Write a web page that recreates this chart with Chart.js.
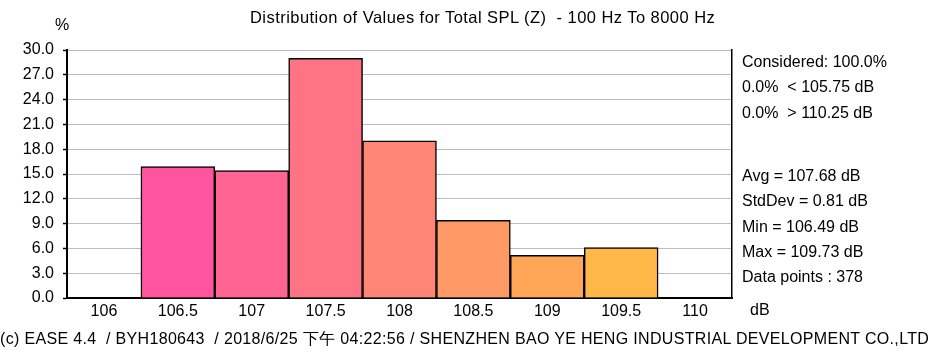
<!DOCTYPE html>
<html>
<head>
<meta charset="utf-8">
<script src="https://cdn.jsdelivr.net/npm/chart.js@4.4.0/dist/chart.umd.min.js"></script>
<style>
  html, body { margin: 0; padding: 0; background: #fff; }
  #wrap { position: relative; width: 930px; height: 353px; overflow: hidden;
          font-family: "Liberation Sans", Arial, sans-serif; font-size: 16px; color: #000; }
  #wrap canvas { position: absolute; left: 0; top: 0; }
  .txt { position: absolute; white-space: pre; line-height: 20px; }
  .stats { position: absolute; left: 742px; white-space: pre; line-height: 25.3px; }
</style>
</head>
<body>
<div id="wrap">
  <canvas id="graph" width="930" height="353"></canvas>
  <div class="txt" id="title" style="left:250px; top:7px; font-size:16.5px; letter-spacing:0.45px;"></div>
  <div class="txt" id="yunit" style="left:55px; top:15px;"></div>
  <div class="txt" id="xunit" style="left:750px; top:300px;"></div>
  <div class="stats" id="statsTop" style="top:49px;"></div>
  <div class="stats" id="statsBottom" style="top:163px;"></div>
  <div class="txt" id="footer" style="left:0px; top:329px; letter-spacing:0.33px;"></div>
</div>
<script>
// histogram bins (dB) and share of values (%)
var bins = ["106", "106.5", "107", "107.5", "108", "108.5", "109", "109.5", "110"];
var percents = [0, 15.9, 15.4, 29.0, 19.0, 9.4, 5.15, 6.1, 0];
var binColors = ["#ff4fa3", "#ff55a0", "#ff6492", "#ff7484", "#ff8677", "#ff9966", "#ffa757", "#ffb848", "#ffc040"];
var yTicks = [0, 3, 6, 9, 12, 15, 18, 21, 24, 27, 30];

var titleText = "Distribution of Values for Total SPL (Z)  - 100 Hz To 8000 Hz";
var statsTop = ["Considered: 100.0%", "0.0%  < 105.75 dB", "0.0%  > 110.25 dB"];
var statsBottom = ["Avg = 107.68 dB", "StdDev = 0.81 dB", "Min = 106.49 dB", "Max = 109.73 dB", "Data points : 378"];
var footerText = "(c) EASE 4.4  / BYH180643  / 2018/6/25 下午 04:22:56 / SHENZHEN BAO YE HENG INDUSTRIAL DEVELOPMENT CO.,LTD";

document.getElementById("title").textContent = titleText;
document.getElementById("yunit").textContent = "%";
document.getElementById("xunit").textContent = "dB";
document.getElementById("statsTop").textContent = statsTop.join("\n");
document.getElementById("statsBottom").textContent = statsBottom.join("\n");
document.getElementById("footer").textContent = footerText;

var tickFont = { family: "Liberation Sans", size: 16 };
var graph_context = document.getElementById("graph").getContext("2d");

var graph = new Chart(graph_context, {
    type: 'bar',
    data: {
        labels: bins,
        datasets: [{
            label: "%",
            data: percents,
            backgroundColor: binColors,
            borderColor: "#000000",
            borderWidth: 1.5,
            borderSkipped: 'bottom',
            barPercentage: 1.0,
            categoryPercentage: 1.0,
            yAxisID: 'y'
        }]
    },
    options: {
        responsive: false,
        animation: false,
        layout: { padding: { top: 50, left: 0, right: 0, bottom: 0 } },
        plugins: {
            legend: { display: false },
            tooltip: { enabled: false },
            title: { display: false }
        },
        scales: {
            x: {
                position: 'bottom',
                grid: { display: false },
                border: { display: true, color: '#000', width: 2 },
                ticks: { color: '#000', font: tickFont, padding: -4, maxRotation: 0, autoSkip: false },
                afterFit: function (scale) { scale.height = 55; }
            },
            y: {
                position: 'left',
                min: 0,
                max: 30,
                afterBuildTicks: function (scale) {
                    scale.ticks = yTicks.map(function (v) { return { value: v }; });
                },
                ticks: {
                    color: '#000',
                    font: tickFont,
                    padding: 9,
                    callback: function (v) { return Number(v).toFixed(1); }
                },
                grid: {
                    color: '#bdbdbd',
                    lineWidth: 1,
                    borderDash: [3, 3],
                    tickColor: '#000',
                    tickLength: 4,
                    tickWidth: 1.5,
                    tickBorderDash: []
                },
                border: { display: true, color: '#000', width: 2 },
                afterFit: function (scale) { scale.width = 67; }
            },
            y2: {
                position: 'right',
                min: 0,
                max: 30,
                grid: { display: false, drawTicks: false },
                ticks: { display: false },
                border: { display: true, color: '#000', width: 1.5 },
                afterFit: function (scale) { scale.width = 198; }
            }
        }
    }
});
</script>
</body>
</html>
